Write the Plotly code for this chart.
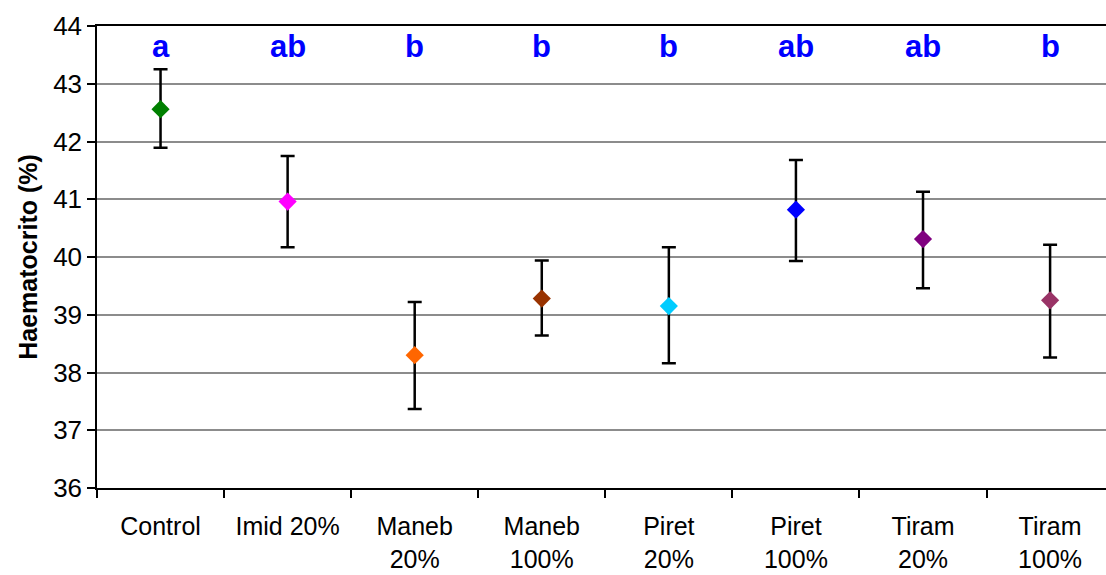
import plotly.graph_objects as go

categories = ["Control", "Imid 20%", "Maneb<br>20%", "Maneb<br>100%", "Piret<br>20%",
              "Piret<br>100%", "Tiram<br>20%", "Tiram<br>100%"]
means = [42.56, 40.96, 38.30, 39.28, 39.15, 40.82, 40.31, 39.25]
upper = [43.25, 41.75, 39.22, 39.94, 40.17, 41.68, 41.13, 40.21]
lower = [41.89, 40.17, 37.37, 38.64, 38.16, 39.93, 39.46, 38.26]
letters = ["a", "ab", "b", "b", "b", "ab", "ab", "b"]
colors = ["#008000", "#FF00FF", "#FF6600", "#993300", "#00CCFF",
          "#0000FF", "#800080", "#993366"]

err_plus = [u - m for u, m in zip(upper, means)]
err_minus = [m - l for m, l in zip(means, lower)]

FONT = "Liberation Sans, Arial, sans-serif"

fig = go.Figure()
fig.add_trace(go.Scatter(
    x=categories, y=means, mode="markers",
    marker=dict(symbol="diamond", size=14, color=colors, line=dict(width=0)),
    error_y=dict(type="data", symmetric=False, array=err_plus, arrayminus=err_minus,
                 color="black", thickness=2.5, width=7),
    showlegend=False,
))

for c, t in zip(categories, letters):
    fig.add_annotation(x=c, y=43.64, text="<b>%s</b>" % t, showarrow=False,
                       xanchor="center", yanchor="middle",
                       font=dict(family=FONT, size=31, color="#0000FF"))

fig.update_layout(
    width=1106, height=575,
    margin=dict(l=97, r=0, t=26, b=87),
    paper_bgcolor="white", plot_bgcolor="white",
    font=dict(family=FONT, color="black"),
)
fig.update_xaxes(
    type="category", range=[-0.5, 7.44],
    showline=True, linecolor="black", linewidth=2, mirror=True,
    ticks="outside", ticklen=8, tickwidth=1.5, tickcolor="black",
    tickson="boundaries", showgrid=False, ticklabelstandoff=15,
    tickfont=dict(family=FONT, size=25, color="black"),
)
fig.update_yaxes(
    range=[36, 44], dtick=1, tick0=36,
    showline=True, linecolor="black", linewidth=1.5,
    ticks="outside", ticklen=8, tickwidth=1.5, tickcolor="black",
    showgrid=True, gridcolor="#8c8c8c", gridwidth=1.5,
    tickfont=dict(family=FONT, size=26, color="black"),
    title=dict(text="<b>Haematocrito (%)</b>", standoff=8,
               font=dict(family=FONT, size=25, color="black")),
    zeroline=False,
)

fig.write_html("out.html")
